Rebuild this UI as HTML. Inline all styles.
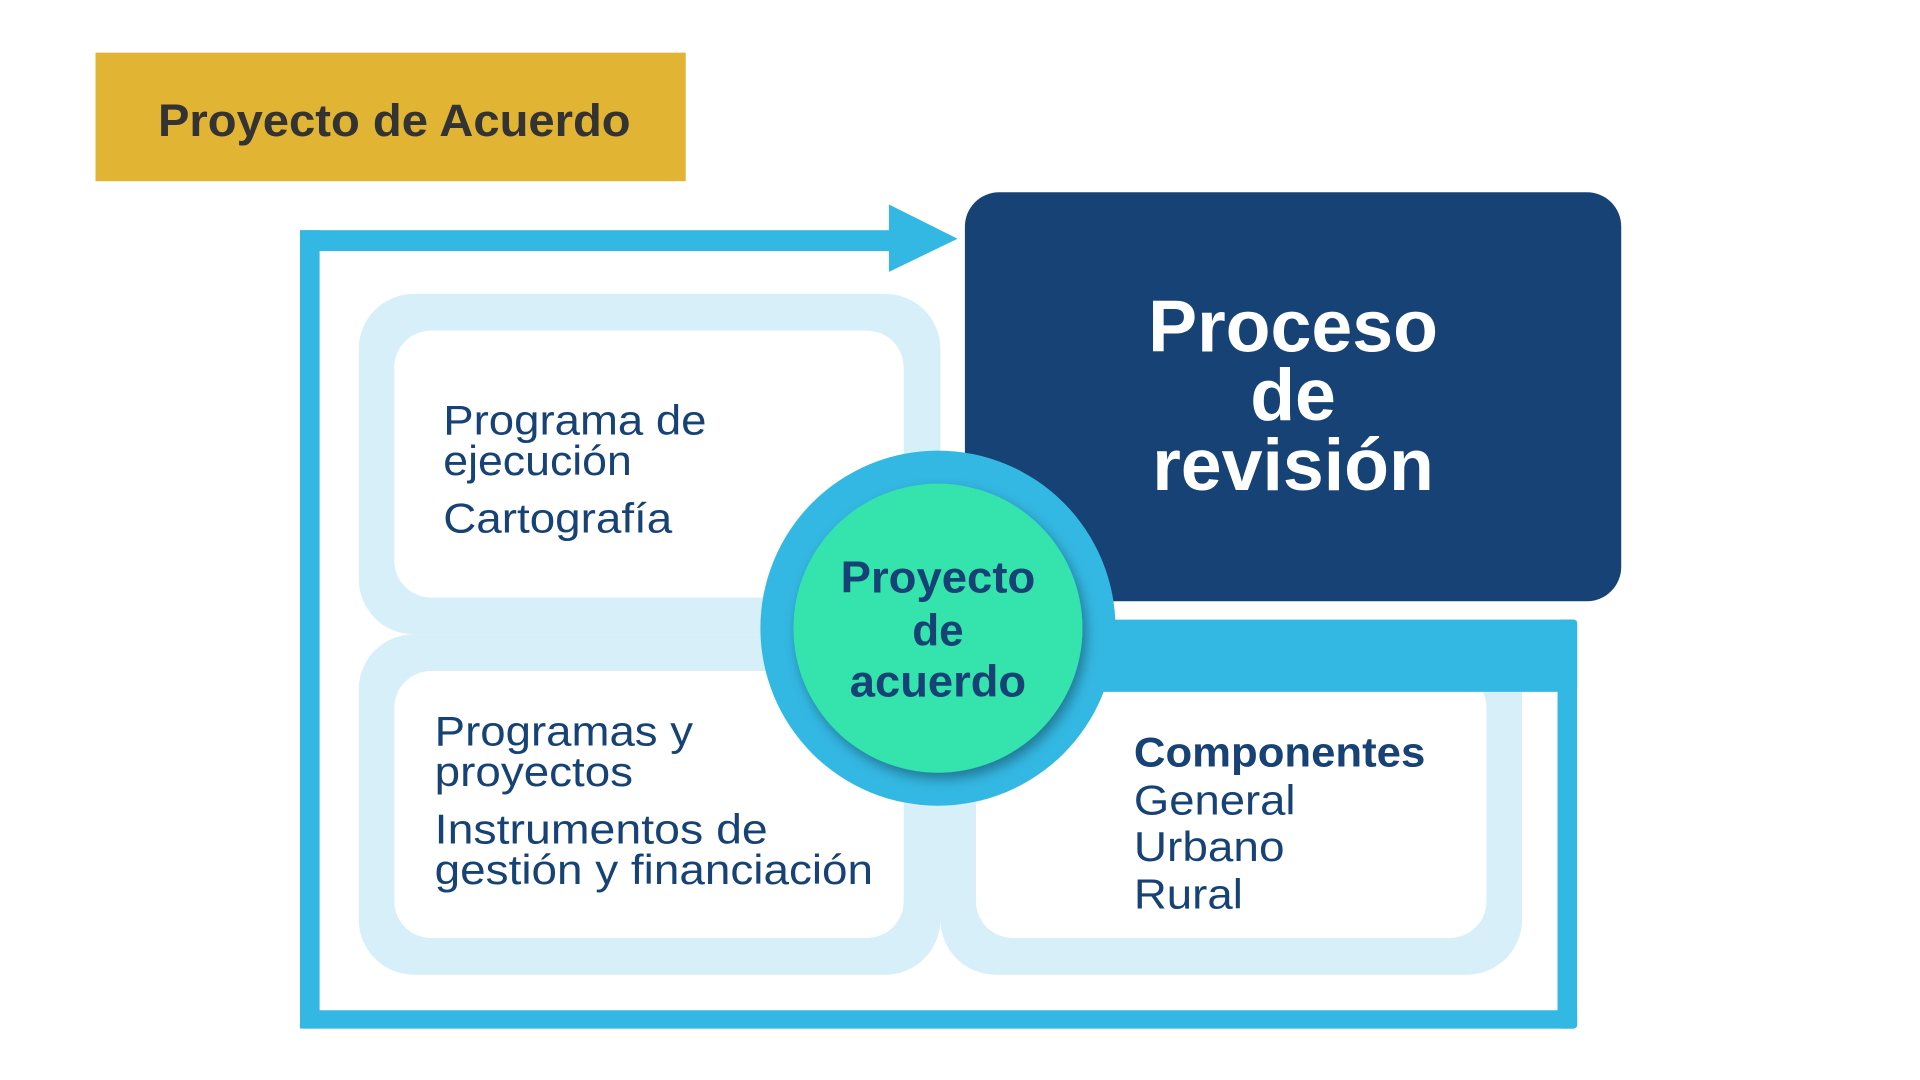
<!DOCTYPE html>
<html><head><meta charset="utf-8"><style>html,body{margin:0;padding:0;background:#fff;width:1920px;height:1080px;overflow:hidden}svg{display:block}</style></head>
<body>
<svg width="1920" height="1080" viewBox="0 0 1568 882" preserveAspectRatio="none" xmlns="http://www.w3.org/2000/svg" font-family="'Liberation Sans', sans-serif">
<defs>
<filter id="sh" x="-20%" y="-20%" width="150%" height="150%"><feDropShadow dx="3" dy="5" stdDeviation="5" flood-color="#000" flood-opacity="0.35"/></filter>
</defs>
<rect x="78" y="43" width="482" height="105" fill="#e1b434"/>
<text x="322" y="111" text-anchor="middle" font-size="37" font-weight="bold" fill="#333" textLength="386" lengthAdjust="spacingAndGlyphs">Proyecto de Acuerdo</text>

<!-- frame -->
<rect x="245" y="188" width="16" height="652" fill="#33b8e3"/>
<rect x="245" y="188" width="490" height="17" fill="#33b8e3"/>
<polygon points="726,167 782,195 726,222" fill="#33b8e3"/>
<rect x="245" y="825" width="1043" height="15" fill="#33b8e3" rx="3"/>
<rect x="1272" y="506" width="16" height="334" fill="#33b8e3" rx="3"/>

<!-- light boxes -->
<rect x="293" y="240" width="475" height="278" rx="45" fill="#d6eff8"/>
<rect x="322" y="270" width="416" height="218" rx="30" fill="#fff"/>
<rect x="293" y="518" width="475" height="278" rx="45" fill="#d6eff8"/>
<rect x="322" y="548" width="416" height="218" rx="30" fill="#fff"/>
<rect x="768" y="518" width="475" height="278" rx="45" fill="#d6eff8"/>
<rect x="797" y="548" width="417" height="218" rx="30" fill="#fff"/>

<rect x="880" y="506" width="408" height="59" fill="#33b8e3" rx="3"/>

<!-- dark box -->
<rect x="788" y="157" width="536" height="334" rx="28" fill="#174275"/>
<g fill="#fff" font-weight="bold" font-size="60" text-anchor="middle">
<text x="1056" y="287">Proceso</text>
<text x="1056" y="343">de</text>
<text x="1056" y="400">revisión</text>
</g>

<!-- circle -->
<circle cx="766" cy="513" r="145" fill="#33b8e3"/>
<circle cx="766" cy="513" r="118" fill="#34e3ad" filter="url(#sh)"/>
<g fill="#174275" font-weight="bold" font-size="36" text-anchor="middle">
<text x="766" y="484" textLength="159" lengthAdjust="spacingAndGlyphs">Proyecto</text>
<text x="766" y="527">de</text>
<text x="766" y="569" textLength="144" lengthAdjust="spacingAndGlyphs">acuerdo</text>
</g>

<g fill="#174275" font-size="34">
<text x="362" y="355" textLength="215" lengthAdjust="spacingAndGlyphs">Programa de</text>
<text x="362" y="388" textLength="154" lengthAdjust="spacingAndGlyphs">ejecución</text>
<text x="362" y="435" textLength="187" lengthAdjust="spacingAndGlyphs">Cartografía</text>
<text x="355" y="609" textLength="211" lengthAdjust="spacingAndGlyphs">Programas y</text>
<text x="355" y="642" textLength="162" lengthAdjust="spacingAndGlyphs">proyectos</text>
<text x="355" y="689" textLength="272" lengthAdjust="spacingAndGlyphs">Instrumentos de</text>
<text x="355" y="722" textLength="358" lengthAdjust="spacingAndGlyphs">gestión y financiación</text>
<text x="926" y="626" font-weight="bold" textLength="238" lengthAdjust="spacingAndGlyphs">Componentes</text>
<text x="926" y="665" textLength="132" lengthAdjust="spacingAndGlyphs">General</text>
<text x="926" y="703" textLength="123" lengthAdjust="spacingAndGlyphs">Urbano</text>
<text x="926" y="742" textLength="89" lengthAdjust="spacingAndGlyphs">Rural</text>
</g>
</svg>
</body></html>
